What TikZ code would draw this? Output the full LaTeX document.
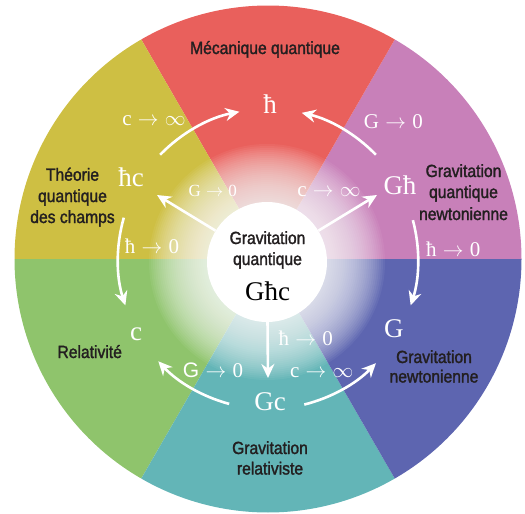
\documentclass[tikz,border=0pt]{standalone}
\usepackage{fontspec}
\usetikzlibrary{arrows.meta,calc}
\newfontfamily\labf{Liberation Sans}[FakeBold=1.6,FakeStretch=0.89]
\newfontfamily\gsans{Liberation Sans}
\newfontfamily\symf{Liberation Serif}
\definecolor{cred}{HTML}{E9605C}
\definecolor{cpink}{HTML}{C880B9}
\definecolor{cblue}{HTML}{5D65B0}
\definecolor{cteal}{HTML}{63B5B7}
\definecolor{cgreen}{HTML}{8FC46C}
\definecolor{cyellow}{HTML}{CEBF43}
\definecolor{labtext}{HTML}{231F20}
\newcommand\tends[2]{#1\hspace{0.3em}$\rightarrow$\hspace{0.3em}#2}
\begin{document}
\begin{tikzpicture}[x=1pt,y=1pt,
  lab/.style={text=labtext, font=\labf\fontsize{17.6}{20.5}\selectfont, inner sep=0, anchor=base},
  big/.style={text=white, font=\symf\fontsize{27}{30}\selectfont, inner sep=0, anchor=base},
  rulel/.style={text=white, font=\symf\fontsize{21}{24}\selectfont, inner sep=0, anchor=base},
  rules/.style={text=white, font=\symf\fontsize{17}{20}\selectfont, inner sep=0, anchor=base},
  conn/.style={white, line width=2.6pt, -{Stealth[length=14pt,width=13pt,inset=4.5pt]}},
]
\useasboundingbox (0,0) rectangle (525,-514);
\coordinate (C) at (268,-259);
\def\R{253.5}
\fill[cpink]   (C) -- ++(0:\R)   arc[start angle=0,  end angle=60,  radius=\R] -- cycle;
\fill[cred]    (C) -- ++(60:\R)  arc[start angle=60, end angle=120, radius=\R] -- cycle;
\fill[cyellow] (C) -- ++(120:\R) arc[start angle=120,end angle=180, radius=\R] -- cycle;
\fill[cgreen]  (C) -- ++(180:\R) arc[start angle=180,end angle=240, radius=\R] -- cycle;
\fill[cteal]   (C) -- ++(240:\R) arc[start angle=240,end angle=300, radius=\R] -- cycle;
\fill[cblue]   (C) -- ++(300:\R) arc[start angle=300,end angle=360, radius=\R] -- cycle;
% glow
\coordinate (G0) at (267,-262);
\foreach \r in {62,64,...,118} \fill[white,opacity=0.055] (G0) circle (\r);
\node[circle, fill=white, minimum size=120pt, inner sep=0] (core) at (G0) {};
% section labels
\node[lab] (meca) at (265,-54) {Mécanique quantique};
\node[lab] (qft1) at (72.5,-180.7) {Théorie};
\node[lab] (qft2) at (72.5,-202) {quantique};
\node[lab] (qft3) at (72.5,-223) {des champs};
\node[lab] (gqn1) at (463.5,-177) {Gravitation};
\node[lab] (gqn2) at (463.5,-198) {quantique};
\node[lab] (gqn3) at (463.5,-220) {newtonienne};
\node[lab] (rel) at (89.7,-358) {Relativité};
\node[lab] (gn1) at (434,-363) {Gravitation};
\node[lab] (gn2) at (434,-382.5) {newtonienne};
\node[lab] (gr1) at (270,-454) {Gravitation};
\node[lab] (gr2) at (270,-474.5) {relativiste};
\node[lab] (cq1) at (267.5,-244) {Gravitation};
\node[lab] (cq2) at (267.5,-265) {quantique};
\node[big,text=black] (Ghc) at (267.5,-300) {Għc};
% theory symbols
\node[big] (h) at (270,-113) {ħ};
\node[big] (hc) at (131,-186.7) {ħc};
\node[big] (Gh) at (400,-194) {Għ};
\node[big] (c) at (136,-340) {c};
\node[big] (G) at (393.8,-337.3) {G};
\node[big] (Gc) at (270,-410) {Gc};
% limits
\node[rulel] (r1) at (154,-125) {\tends{c}{$\infty$}};
\node[rulel] (r2) at (393.3,-128.3) {\tends{G}{0}};
\node[rules] (r3) at (212.8,-196.7) {\tends{G}{0}};
\node[rulel] (r4) at (329,-196.7) {\tends{c}{$\infty$}};
\node[rulel] (r5) at (152,-253.3) {\tends{ħ}{0}};
\node[rulel] (r6) at (453.3,-256.7) {\tends{ħ}{0}};
\node[rulel] (r7) at (305.8,-345) {\tends{ħ}{0}};
\node[rulel] (r8) at (213,-377.3) {\tends{{\gsans G}}{0}};
\node[rulel] (r9) at (321.7,-377.3) {\tends{c}{$\infty$}};
% straight arrows
\coordinate (tA) at (157,-195);
\coordinate (tB) at (377,-195);
\coordinate (tC) at (268,-378);
\draw[conn] (core) -- (tA);
\draw[conn] (core) -- (tB);
\draw[conn] (core) -- (tC);
% arcs
\coordinate (a1) at ($(C)+(136:150)$);
\coordinate (a2) at ($(C)+(44:150)$);
\coordinate (a3) at ($(C)+(164:150)$);
\coordinate (a4) at ($(C)+(15:150)$);
\coordinate (a5) at ($(C)+(255:150)$);
\coordinate (a6) at ($(C)+(284:150)$);
\draw[conn] (a1) arc[start angle=136, end angle=101, radius=150];
\draw[conn] (a2) arc[start angle=44, end angle=77, radius=150];
\draw[conn] (a3) arc[start angle=164, end angle=198, radius=150];
\draw[conn] (a4) arc[start angle=15, end angle=-18, radius=150];
\draw[conn] (a5) arc[start angle=255, end angle=223, radius=150];
\draw[conn] (a6) arc[start angle=284, end angle=316, radius=150];
\end{tikzpicture}
\end{document}
